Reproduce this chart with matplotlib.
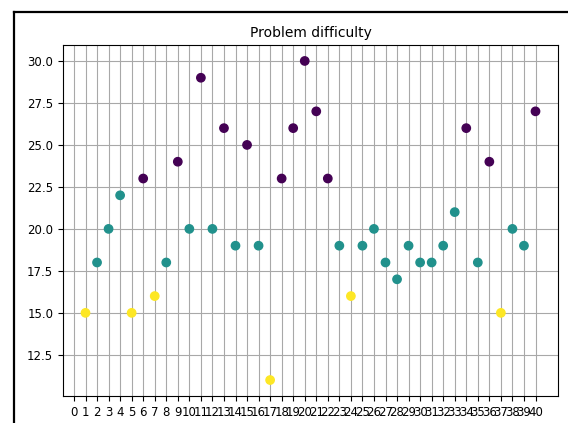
import matplotlib
matplotlib.use("Agg")
import matplotlib.pyplot as plt
from matplotlib.lines import Line2D

problems = list(range(1, 41))
difficulty = [15, 18, 20, 22, 15, 23, 16, 18, 24, 20,
              29, 20, 26, 19, 25, 19, 11, 23, 26, 30,
              27, 23, 19, 16, 19, 20, 18, 17, 19, 18,
              18, 19, 21, 26, 18, 24, 15, 20, 19, 27]
# category: 0 = hard, 1 = medium, 2 = easy
level = [2, 1, 1, 1, 2, 0, 2, 1, 0, 1,
         0, 1, 0, 1, 0, 1, 2, 0, 0, 0,
         0, 0, 1, 2, 1, 1, 1, 1, 1, 1,
         1, 1, 1, 0, 1, 0, 2, 1, 1, 0]
xtick_values = list(range(0, 41))

W, H = 568, 423
fig = plt.figure(figsize=(W / 100, H / 100), dpi=100)
ax = fig.add_axes([63 / W, 1 - 396 / H, (558 - 63) / W, (396 - 45) / H])

ax.scatter(problems, difficulty, c=level, cmap="viridis", s=36, zorder=3)
ax.set_xticks(xtick_values)
ax.set_xticklabels([str(v) for v in xtick_values])
ax.tick_params(labelsize=8.5)
ax.grid(True, color="#a8a8a8", linewidth=0.8)
ax.set_title("Problem difficulty", fontsize=10)

# outer frame (partial, as in the reference crop)
fig.add_artist(Line2D([14 / W, 14 / W], [0, 1 - 12 / H], transform=fig.transFigure,
                      color="black", linewidth=1.6))
fig.add_artist(Line2D([14 / W, 1], [1 - 12 / H, 1 - 12 / H], transform=fig.transFigure,
                      color="black", linewidth=1.6))

fig.savefig("out.png", dpi=100)
